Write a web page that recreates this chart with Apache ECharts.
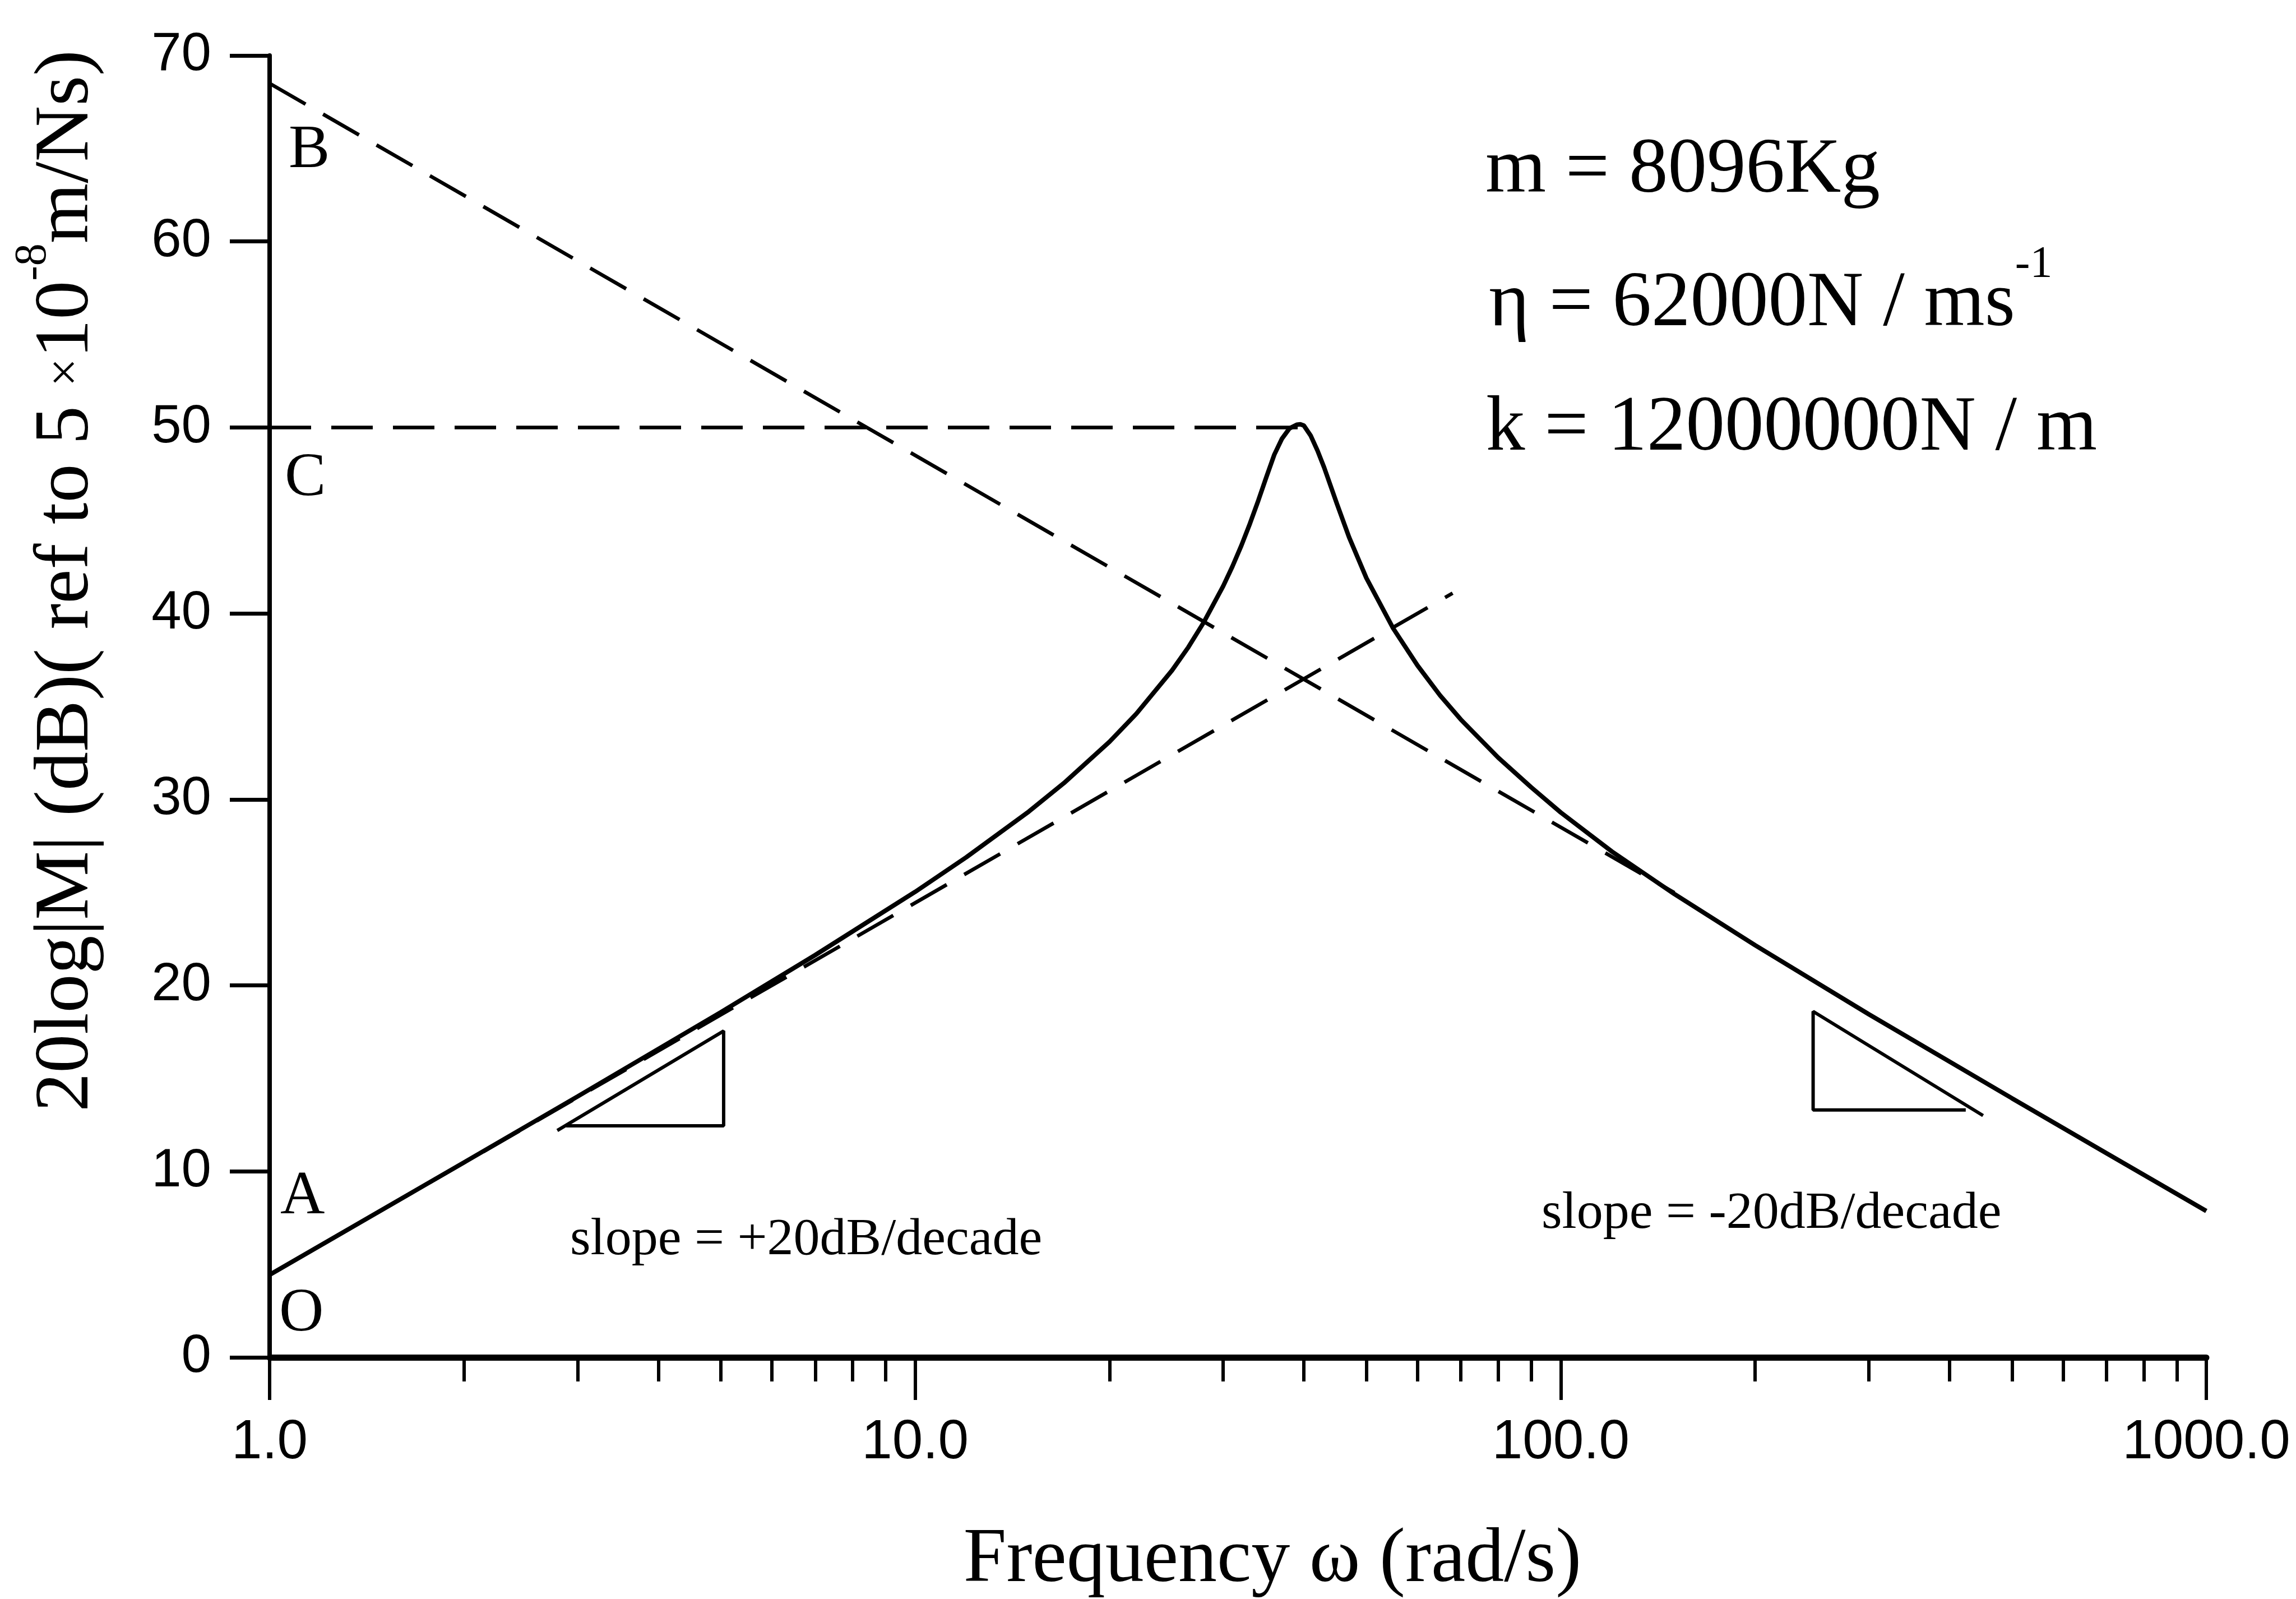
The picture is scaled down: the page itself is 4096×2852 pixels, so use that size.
<!DOCTYPE html>
<html>
<head>
<meta charset="utf-8">
<title>Mobility of a mass-spring-damper</title>
<style>
  html, body { margin: 0; padding: 0; background: #fff; }
  #chart { width: 4096px; height: 2852px; }
</style>
<script src="https://cdn.jsdelivr.net/npm/echarts@6/dist/echarts.min.js"></script>
</head>
<body>
<div id="chart"></div>
<script>
// mobility curve (rad/s, dB)
var freq = [1, 2, 3, 5, 7, 10, 12, 15, 17, 20, 22, 25, 26.5, 28, 30, 31, 32, 33, 34, 35,
            36, 37, 38, 39, 39.5, 40, 41, 42, 43, 45, 47, 50, 55, 60, 65, 70, 80, 90, 100,
            120, 150, 200, 300, 500, 700, 1000];
var mobilityDb = [4.44, 10.48, 14.03, 18.56, 21.63, 25.03, 26.89, 29.35, 30.88, 33.10, 34.60,
                  36.94, 38.19, 39.53, 41.47, 42.52, 43.64, 44.83, 46.07, 47.34, 48.54, 49.40,
                  49.95, 50.15, 50.17, 50.10, 49.55, 48.75, 47.85, 45.90, 44.10, 41.90, 39.20,
                  37.20, 35.60, 34.30, 32.25, 30.65, 29.30, 27.20, 24.91, 22.16, 18.45, 13.93,
                  10.98, 7.87];

// dashed asymptotes
var massLineFreq = [1, 150];
var massLineDb = [68.5, 24.98];
var springLineFreq = [1, 68];
var springLineDb = [4.44, 41.09];
var peakLineFreq = [1, 39.5];
var peakLineDb = [50, 50];

// slope triangles
var slopeUpFreq = [2.79, 5.05, 5.05, 2.88];
var slopeUpDb = [12.2, 17.55, 12.45, 12.45];
var slopeDownFreq = [451, 246, 246, 424];
var slopeDownDb = [13.0, 18.6, 13.3, 13.3];

// axes
var xMinorTicks = [2, 3, 4, 5, 6, 7, 8, 9, 20, 30, 40, 50, 60, 70, 80, 90,
                   200, 300, 400, 500, 600, 700, 800, 900];
var yMin = 0, yMax = 70, yStep = 10;

var SERIF = "'Liberation Serif', 'Times New Roman', serif";
var SANS = "'Liberation Sans', Arial, sans-serif";

function zip(xs, ys) {
    return xs.map(function (x, i) { return [x, ys[i]]; });
}

function lineSeries(xs, ys, width, dashed) {
    return {
        type: 'line',
        data: zip(xs, ys),
        symbol: 'none',
        silent: true,
        smooth: false,
        lineStyle: { color: '#000', width: width, type: dashed ? [74, 36] : 'solid' }
    };
}

function label(text, x, y, size, align) {
    return {
        type: 'text', x: x, y: y, silent: true,
        style: { text: text, fontFamily: SERIF, fontSize: size, fill: '#000',
                 align: align || 'left', verticalAlign: 'middle' }
    };
}

var chart = echarts.init(document.getElementById('chart'));

var option = {
    backgroundColor: '#fff',
    animation: false,
    grid: { left: 481, right: 160, top: 99, bottom: 431, containLabel: false, outerBoundsMode: 'none' },
    xAxis: [{
        type: 'log',
        logBase: 10,
        min: 1,
        max: 1000,
        position: 'bottom',
        axisLine: { show: true, onZero: false, lineStyle: { color: '#000', width: 11 } },
        axisTick: { show: true, inside: false, length: 76, lineStyle: { color: '#000', width: 6 } },
        axisLabel: {
            color: '#000', fontFamily: SANS, fontSize: 98, margin: 104,
            formatter: function (v) { return Number(v).toFixed(1); }
        },
        splitLine: { show: false }
    }, {
        type: 'log',
        logBase: 10,
        min: 1,
        max: 1000,
        position: 'bottom',
        axisLine: { show: false },
        axisTick: { show: true, inside: false, length: 43, customValues: xMinorTicks,
                    lineStyle: { color: '#000', width: 6 } },
        axisLabel: { show: false },
        splitLine: { show: false }
    }],
    yAxis: {
        type: 'value',
        min: yMin,
        max: yMax,
        interval: yStep,
        axisLine: { show: true, lineStyle: { color: '#000', width: 8 } },
        axisTick: { show: true, inside: false, length: 71, lineStyle: { color: '#000', width: 7 } },
        axisLabel: { color: '#000', fontFamily: SANS, fontSize: 96, margin: 104 },
        splitLine: { show: false }
    },
    series: [
        lineSeries(freq, mobilityDb, 8, false),
        lineSeries(massLineFreq, massLineDb, 6.5, true),
        lineSeries(springLineFreq, springLineDb, 6.5, true),
        lineSeries(peakLineFreq, peakLineDb, 6.5, true),
        lineSeries(slopeUpFreq, slopeUpDb, 6, false),
        lineSeries(slopeDownFreq, slopeDownDb, 6, false)
    ],
    graphic: [
        // y axis title, rotated
        {
            type: 'text', x: 120, y: 1036, rotation: Math.PI / 2, silent: true,
            style: {
                text: '{a|20log|M| (dB)( ref to 5 }{x|×}{a|10}{s|-8}{a|m/Ns)}',
                align: 'center', verticalAlign: 'middle', fill: '#000',
                rich: {
                    a: { fontFamily: SERIF, fontSize: 138, lineHeight: 200, fill: '#000' },
                    x: { fontFamily: SERIF, fontSize: 90, lineHeight: 200, fill: '#000' },
                    s: { fontFamily: SERIF, fontSize: 80, lineHeight: 90, verticalAlign: 'top', fill: '#000' }
                }
            }
        },
        label('Frequency ω (rad/s)', 2270, 2784, 138, 'center'),
        // parameters
        label('m = 8096Kg', 2650, 305, 139),
        {
            type: 'text', x: 2656, y: 543, silent: true,
            style: {
                text: '{a|η = 62000N / ms}{s|-1}',
                align: 'left', verticalAlign: 'middle', fill: '#000',
                rich: {
                    a: { fontFamily: SERIF, fontSize: 139, lineHeight: 220, fill: '#000' },
                    s: { fontFamily: SERIF, fontSize: 80, lineHeight: 136, verticalAlign: 'top', fill: '#000' }
                }
            }
        },
        label('k = 12000000N / m', 2651, 765, 139),
        // point labels
        label('B', 515, 269, 110),
        label('C', 508, 854, 110),
        label('A', 500, 2135, 110),
        label('O', 498, 2344, 110),
        // slope notes
        label('slope = +20dB/decade', 1017, 2212, 94),
        label('slope = -20dB/decade', 2750, 2165, 94)
    ]
};

chart.setOption(option);
</script>
</body>
</html>
